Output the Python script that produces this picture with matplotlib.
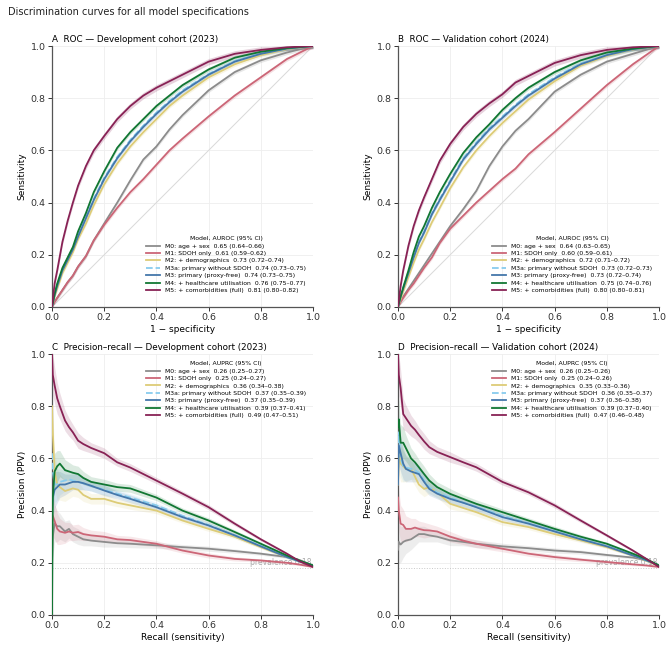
import matplotlib
matplotlib.use("Agg")
import matplotlib.pyplot as plt
import numpy as np

# ---- models -------------------------------------------------------------
models = [
    "M0: age + sex",
    "M1: SDOH only",
    "M2: + demographics",
    "M3a: primary without SDOH",
    "M3: primary (proxy-free)",
    "M4: + healthcare utilisation",
    "M5: + comorbidities (full)",
]
colors = ["#8c8c8c", "#cc6677", "#ddcc77", "#88ccee", "#4477aa", "#117733", "#882255"]
styles = ["-", "-", "-", "--", "-", "-", "-"]

auroc_dev = ["0.65 (0.64–0.66)", "0.61 (0.59–0.62)", "0.73 (0.72–0.74)", "0.74 (0.73–0.75)",
             "0.74 (0.73–0.75)", "0.76 (0.75–0.77)", "0.81 (0.80–0.82)"]
auroc_val = ["0.64 (0.63–0.65)", "0.60 (0.59–0.61)", "0.72 (0.71–0.72)", "0.73 (0.72–0.73)",
             "0.73 (0.72–0.74)", "0.75 (0.74–0.76)", "0.80 (0.80–0.81)"]
auprc_dev = ["0.26 (0.25–0.27)", "0.25 (0.24–0.27)", "0.36 (0.34–0.38)", "0.37 (0.35–0.39)",
             "0.37 (0.35–0.39)", "0.39 (0.37–0.41)", "0.49 (0.47–0.51)"]
auprc_val = ["0.26 (0.25–0.26)", "0.25 (0.24–0.26)", "0.35 (0.33–0.36)", "0.36 (0.35–0.37)",
             "0.37 (0.36–0.38)", "0.39 (0.37–0.40)", "0.47 (0.46–0.48)"]

prevalence = 0.18

# ---- ROC curves --------------------------------------------------------
fpr = [0, .01, .02, .04, .06, .08, .1, .13, .16, .2, .25, .3, .35, .4, .45, .5, .6, .7, .8, .9, 1]

tpr_dev = [
    [0, .02, .035, .065, .095, .12, .155, .195, .255, .32, .40, .485, .565, .615, .68, .735, .83, .90, .945, .975, 1],
    [0, .02, .035, .065, .095, .12, .155, .195, .255, .315, .38, .44, .49, .545, .60, .645, .73, .81, .88, .95, 1],
    [0, .04, .07, .13, .17, .21, .26, .32, .39, .47, .55, .615, .67, .72, .77, .81, .88, .93, .965, .988, 1],
    [0, .05, .085, .145, .185, .225, .275, .345, .415, .495, .575, .64, .695, .745, .79, .83, .893, .942, .972, .99, 1],
    [0, .045, .08, .14, .18, .22, .27, .34, .41, .49, .57, .635, .69, .74, .785, .825, .89, .94, .97, .99, 1],
    [0, .05, .09, .15, .19, .23, .29, .36, .44, .52, .61, .67, .72, .77, .81, .85, .91, .955, .978, .992, 1],
    [0, .09, .14, .25, .33, .40, .465, .54, .60, .655, .72, .77, .81, .84, .865, .89, .94, .97, .985, .995, 1],
]
tpr_val = [
    [0, .02, .04, .07, .10, .13, .16, .205, .25, .31, .375, .445, .54, .615, .675, .72, .825, .89, .94, .97, 1],
    [0, .02, .035, .065, .09, .12, .15, .19, .245, .30, .35, .40, .445, .49, .53, .585, .67, .76, .85, .93, 1],
    [0, .03, .06, .115, .17, .22, .26, .325, .38, .455, .535, .60, .655, .705, .75, .795, .865, .925, .962, .987, 1],
    [0, .045, .075, .135, .195, .25, .29, .36, .415, .485, .57, .63, .685, .73, .775, .815, .88, .933, .967, .989, 1],
    [0, .04, .07, .13, .19, .245, .285, .355, .41, .48, .565, .625, .68, .725, .77, .81, .875, .93, .965, .988, 1],
    [0, .04, .075, .14, .21, .27, .31, .38, .44, .51, .59, .65, .70, .755, .80, .84, .90, .945, .975, .99, 1],
    [0, .08, .14, .235, .31, .37, .42, .49, .56, .625, .69, .74, .78, .815, .86, .885, .935, .965, .985, .995, 1],
]
roc_ci = [0.008, 0.008, 0.008, 0.008, 0.008, 0.008, 0.012]

# ---- precision-recall curves --------------------------------------------
recall = [0, .003, .01, .02, .03, .05, .065, .08, .1, .12, .15, .2, .25, .3, .4, .5, .6, .7, .8, .9, .95, 1]

prec_dev = [
    [.20, .30, .35, .34, .34, .32, .33, .31, .30, .29, .285, .28, .275, .273, .267, .26, .254, .245, .235, .222, .21, .19],
    [.37, .38, .36, .33, .32, .315, .32, .315, .318, .31, .305, .30, .29, .287, .273, .247, .228, .215, .209, .20, .193, .184],
    [.80, .70, .55, .50, .49, .475, .48, .485, .48, .46, .445, .445, .43, .42, .40, .362, .33, .30, .26, .222, .205, .188],
    [.62, .55, .50, .50, .51, .515, .52, .515, .51, .505, .495, .48, .465, .45, .42, .38, .345, .305, .265, .222, .205, .19],
    [.40, .45, .48, .49, .50, .50, .505, .51, .51, .505, .495, .477, .46, .445, .413, .375, .343, .305, .263, .222, .205, .19],
    [0.0, .45, .55, .57, .58, .555, .55, .545, .54, .525, .51, .50, .49, .485, .45, .40, .362, .318, .273, .228, .208, .19],
    [1.0, .92, .88, .83, .80, .745, .72, .70, .668, .655, .64, .62, .585, .565, .515, .465, .413, .35, .29, .235, .205, .184],
]
prec_val = [
    [.25, .28, .27, .28, .285, .29, .30, .31, .31, .305, .30, .286, .28, .273, .263, .256, .247, .241, .23, .22, .21, .19],
    [.45, .40, .35, .345, .33, .33, .335, .33, .325, .324, .32, .30, .285, .273, .254, .235, .222, .212, .203, .194, .19, .184],
    [.50, .62, .58, .57, .56, .56, .53, .50, .483, .49, .47, .426, .41, .394, .356, .337, .31, .286, .26, .228, .208, .188],
    [.55, .70, .60, .57, .565, .56, .555, .545, .515, .49, .47, .45, .43, .415, .38, .352, .322, .292, .265, .23, .21, .19],
    [.50, .65, .62, .58, .56, .55, .545, .54, .51, .483, .465, .445, .43, .413, .375, .35, .32, .29, .263, .228, .21, .19],
    [.72, .75, .66, .66, .64, .60, .585, .566, .54, .515, .49, .464, .445, .426, .394, .362, .33, .30, .273, .235, .215, .19],
    [1.0, .92, .87, .77, .755, .725, .71, .69, .665, .643, .625, .605, .585, .566, .51, .47, .42, .362, .305, .247, .216, .184],
]
pr_ci = [.08, .08, .07, .06, .05, .04, .035, .03, .03, .025, .02, .02, .015, .015, .012, .01, .01, .008, .006, .005, .004, .003]


def style_axes(ax):
    for side in ("top", "right"):
        ax.spines[side].set_visible(False)
    for side in ("left", "bottom"):
        ax.spines[side].set_color("#555555")
        ax.spines[side].set_linewidth(0.9)
    ax.set_xlim(0, 1)
    ax.set_ylim(0, 1)
    ax.set_xticks(np.arange(0, 1.01, 0.2))
    ax.set_yticks(np.arange(0, 1.01, 0.2))
    ax.tick_params(labelsize=6.8, length=3, width=0.7, colors="#333333", pad=1.5)
    ax.grid(True, color="#eeeeee", linewidth=0.6)
    ax.set_axisbelow(True)


def add_legend(ax, title, loc, anchor):
    ax.legend(loc=loc, bbox_to_anchor=anchor, title=title, fontsize=4.4,
              title_fontsize=4.4, frameon=False, labelspacing=0.35,
              handlelength=2.2, borderaxespad=0.8)


def roc_panel(ax, tprs, aucs, title):
    style_axes(ax)
    ax.plot([0, 1], [0, 1], color="#d9d9d9", lw=0.7, zorder=1)
    x = np.array(fpr)
    for i, name in enumerate(models):
        y = np.array(tprs[i])
        lo = np.clip(y - roc_ci[i], 0, 1)
        hi = np.clip(y + roc_ci[i], 0, 1)
        ax.fill_between(x, lo, hi, color=colors[i], alpha=0.2, lw=0, zorder=2)
        ax.plot(x, y, styles[i], color=colors[i], lw=1.3, zorder=3,
                label=f"{name}  {aucs[i]}")
    ax.set_title(title, loc="left", fontsize=6.3, pad=3)
    ax.set_xlabel("1 − specificity", fontsize=6.5, labelpad=2)
    ax.set_ylabel("Sensitivity", fontsize=6.5, labelpad=3)
    add_legend(ax, "Model, AUROC (95% CI)", "lower right", (1.0, 0.025))


def pr_panel(ax, precs, aucs, title):
    style_axes(ax)
    ax.axhline(prevalence, color="#c8c8c8", lw=0.7, ls=":", zorder=1)
    ax.text(0.995, prevalence + 0.005, f"prevalence {prevalence:.2f}", ha="right",
            va="bottom", fontsize=5.5, color="#aaaaaa", zorder=1)
    x = np.array(recall)
    band = np.array(pr_ci)
    for i, name in enumerate(models):
        y = np.array(precs[i])
        ax.fill_between(x, np.clip(y - band, 0, 1), np.clip(y + band, 0, 1),
                        color=colors[i], alpha=0.15, lw=0, zorder=2)
        ax.plot(x, y, styles[i], color=colors[i], lw=1.3, zorder=3,
                label=f"{name}  {aucs[i]}")
    ax.set_title(title, loc="left", fontsize=6.3, pad=3)
    ax.set_xlabel("Recall (sensitivity)", fontsize=6.5, labelpad=2)
    ax.set_ylabel("Precision (PPV)", fontsize=6.5, labelpad=3)
    add_legend(ax, "Model, AUPRC (95% CI)", "upper right", (1.0, 1.0))


fig = plt.figure(figsize=(6.7, 6.45), dpi=100)
W, H = 670, 645
size_w, size_h = 261 / W, 261 / H
ax_a = fig.add_axes([52 / W, (H - 307) / H, size_w, size_h])
ax_b = fig.add_axes([398 / W, (H - 307) / H, size_w, size_h])
ax_c = fig.add_axes([52 / W, (H - 615) / H, size_w, size_h])
ax_d = fig.add_axes([398 / W, (H - 615) / H, size_w, size_h])

roc_panel(ax_a, tpr_dev, auroc_dev, "A  ROC — Development cohort (2023)")
roc_panel(ax_b, tpr_val, auroc_val, "B  ROC — Validation cohort (2024)")
pr_panel(ax_c, prec_dev, auprc_dev, "C  Precision–recall — Development cohort (2023)")
pr_panel(ax_d, prec_val, auprc_val, "D  Precision–recall — Validation cohort (2024)")

fig.text(8 / W, 1 - 12 / H, "Discrimination curves for all model specifications",
         fontsize=7, va="center", ha="left", color="#222222")

fig.savefig("out.png", dpi=100)
